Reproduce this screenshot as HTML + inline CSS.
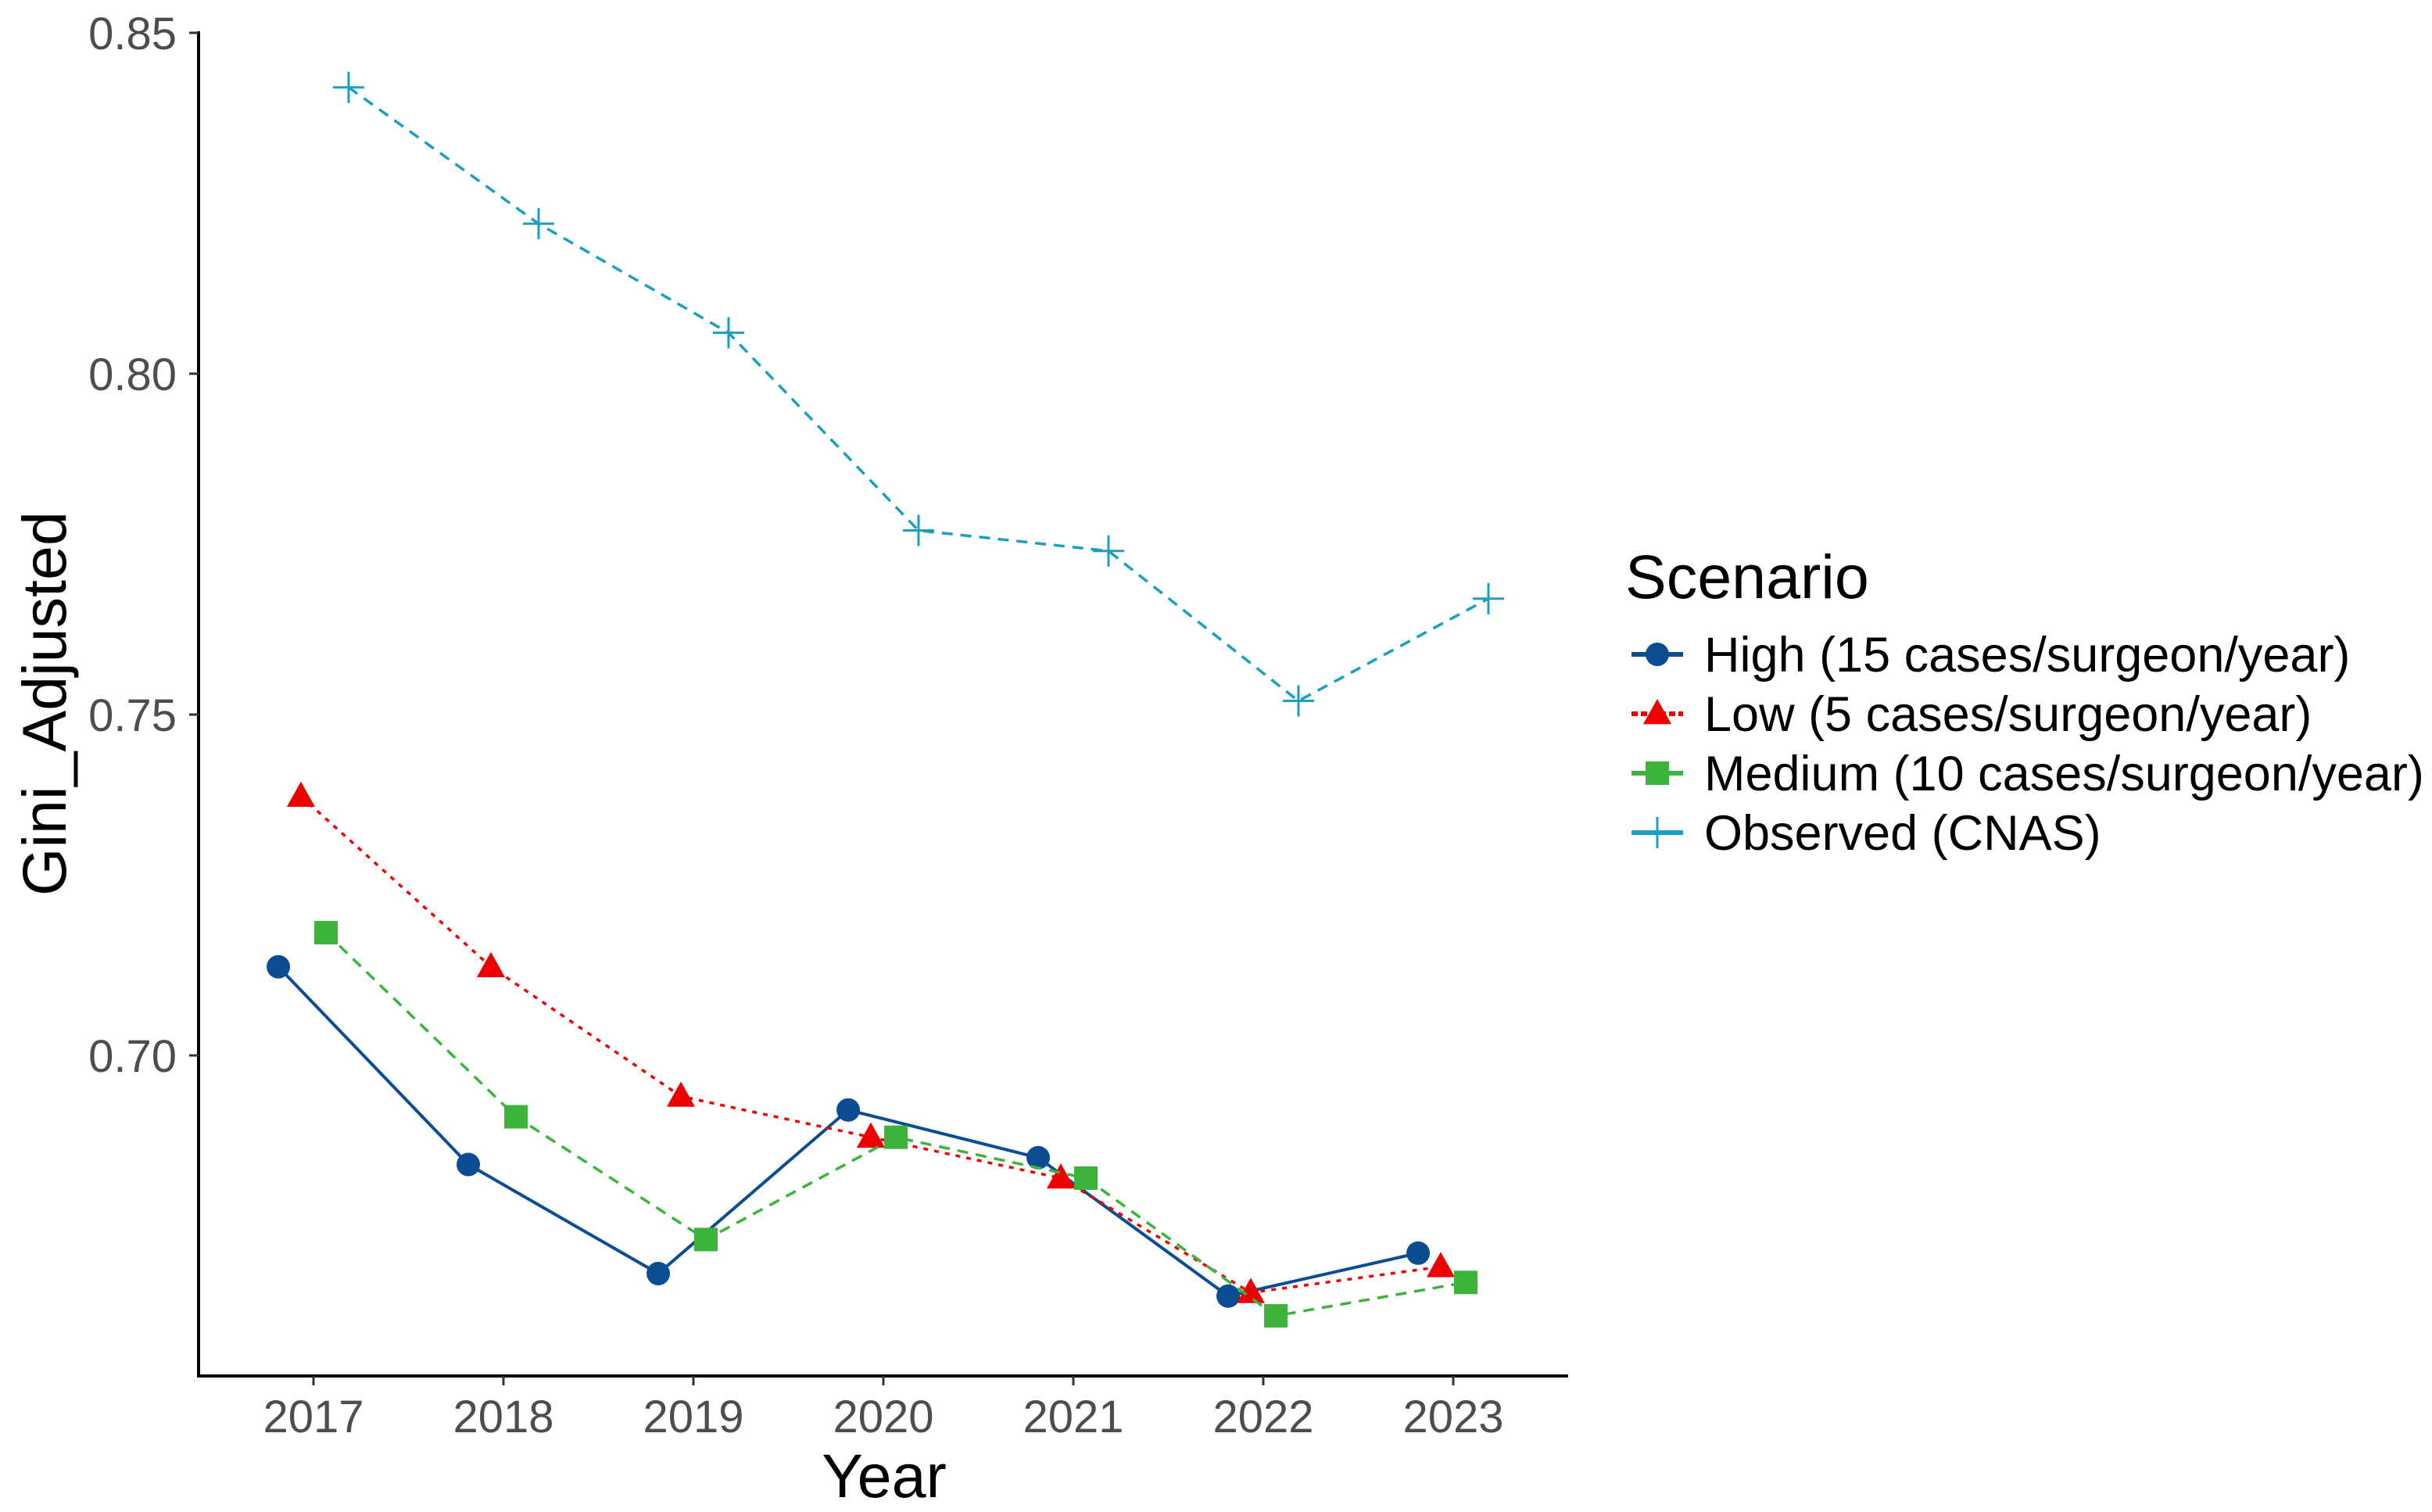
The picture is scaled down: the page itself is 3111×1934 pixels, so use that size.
<!DOCTYPE html>
<html><head><meta charset="utf-8"><style>
html,body{margin:0;padding:0;background:#fff}
svg{display:block;font-family:"Liberation Sans",sans-serif}
</style></head><body>
<svg id="chart" width="3111" height="1934" viewBox="0 0 3111 1934" xmlns="http://www.w3.org/2000/svg">
<g id="plot"></g>
<g id="axes"></g>
<text transform="translate(84,900) rotate(-90)" text-anchor="middle" font-size="79" fill="#000">Gini_Adjusted</text>
<text x="1131" y="1915" text-anchor="middle" font-size="79" fill="#000">Year</text>
<g id="legend"></g>
</svg>
<script>
const years = [2017, 2018, 2019, 2020, 2021, 2022, 2023];
const highVals = [0.713, 0.684, 0.668, 0.692, 0.685, 0.6647, 0.671];
const lowVals = [0.738, 0.713, 0.694, 0.688, 0.682, 0.6652, 0.669];
const mediumVals = [0.718, 0.691, 0.673, 0.688, 0.682, 0.6618, 0.6667];
const observedVals = [0.842, 0.822, 0.806, 0.777, 0.774, 0.752, 0.767];
const yTicks = [0.70, 0.75, 0.80, 0.85];
const yTickLabels = ["0.70", "0.75", "0.80", "0.85"];
const seriesNames = ["High (15 cases/surgeon/year)", "Low (5 cases/surgeon/year)", "Medium (10 cases/surgeon/year)", "Observed (CNAS)"];

const NS = "http://www.w3.org/2000/svg";
function X(yr){ return 401 + (yr - 2017) * 243; }
function Y(v){ return 1350 - (v - 0.70) * 8720; }
function mk(tag, attrs, parent){ const e=document.createElementNS(NS,tag); for(const k in attrs) e.setAttribute(k,attrs[k]); parent.appendChild(e); return e; }

const series = [
 {key:"high", vals:highVals, color:"#0b4c92", dash:"", off:-0.185, shape:"circle"},
 {key:"low", vals:lowVals, color:"#ee0000", dash:"6,8", off:-0.066, shape:"triangle"},
 {key:"medium", vals:mediumVals, color:"#3cb43c", dash:"14,10", off:0.066, shape:"square"},
 {key:"observed", vals:observedVals, color:"#1a9fbf", dash:"14,10", off:0.185, shape:"plus"}
];

function marker(shape, cx, cy, color, parent, s){
  let e;
  s = s || 1;
  if(shape==="circle") e = mk("circle",{cx:cx,cy:cy,r:15*s,fill:color},parent);
  else if(shape==="triangle"){ const r=19*s; e = mk("polygon",{points:`${cx},${cy-r} ${cx+r*0.95},${cy+r*0.7} ${cx-r*0.95},${cy+r*0.7}`,fill:color},parent); }
  else if(shape==="square") e = mk("rect",{x:cx-15*s,y:cy-15*s,width:30*s,height:30*s,fill:color},parent);
  else { e = mk("path",{d:`M${cx-20*s},${cy}H${cx+20*s}M${cx},${cy-20*s}V${cy+20*s}`,stroke:color,"stroke-width":3,fill:"none"},parent); }
  return e;
}

const plot = document.getElementById("plot");
series.forEach(s=>{
  const g = mk("g",{},plot);
  
  
  const pts = s.vals.map((v,i)=>[X(years[i]+s.off), Y(v)]);
  const line = mk("polyline",{points:pts.map(p=>p.join(",")).join(" "),fill:"none",stroke:s.color,"stroke-width":s.key==="high"?4:3.5,"stroke-dasharray":s.dash},g);
  
  
  pts.forEach((p,i)=>{
    const m = marker(s.shape,p[0],p[1],s.color,g);
    
    
  });
});

const axes = document.getElementById("axes");
const yl = mk("line",{x1:254,y1:40,x2:254,y2:1762,stroke:"#000","stroke-width":4},axes);


const xl = mk("line",{x1:252,y1:1760,x2:2006,y2:1760,stroke:"#000","stroke-width":4},axes);


yTicks.forEach((t,i)=>{
  const y=Y(t);
  const tk = mk("line",{x1:242,y1:y,x2:254,y2:y,stroke:"#333","stroke-width":3},axes);
  
  
  const tx = mk("text",{x:226,y:y+21,"text-anchor":"end","font-size":58,fill:"#4d4d4d"},axes);
  tx.textContent = yTickLabels[i];
  
  
});
years.forEach(yr=>{
  const x=X(yr);
  const tk = mk("line",{x1:x,y1:1760,x2:x,y2:1772,stroke:"#333","stroke-width":3},axes);
  
  
  const tx = mk("text",{x:x,y:1832,"text-anchor":"middle","font-size":58,fill:"#4d4d4d"},axes);
  tx.textContent = yr;
  
  
});

const lg = document.getElementById("legend");
const lt = mk("text",{x:2079,y:765,"font-size":79,fill:"#000"},lg);
lt.textContent = "Scenario";


const rowY = [837, 913, 989, 1065];
series.forEach((s,i)=>{
  const g = mk("g",{},lg);
  
  
  const y=rowY[i];
  mk("line",{x1:2087,y1:y,x2:2153,y2:y,stroke:s.color,"stroke-width":6,"stroke-dasharray":s.key==="low"?"8,4":""},g);
  marker(s.shape,2120,y,s.color,g,1);
  const t = mk("text",{x:2180,y:y+22,"font-size":63,fill:"#000"},g);
  t.textContent = seriesNames[i];
});
</script>
</body></html>
